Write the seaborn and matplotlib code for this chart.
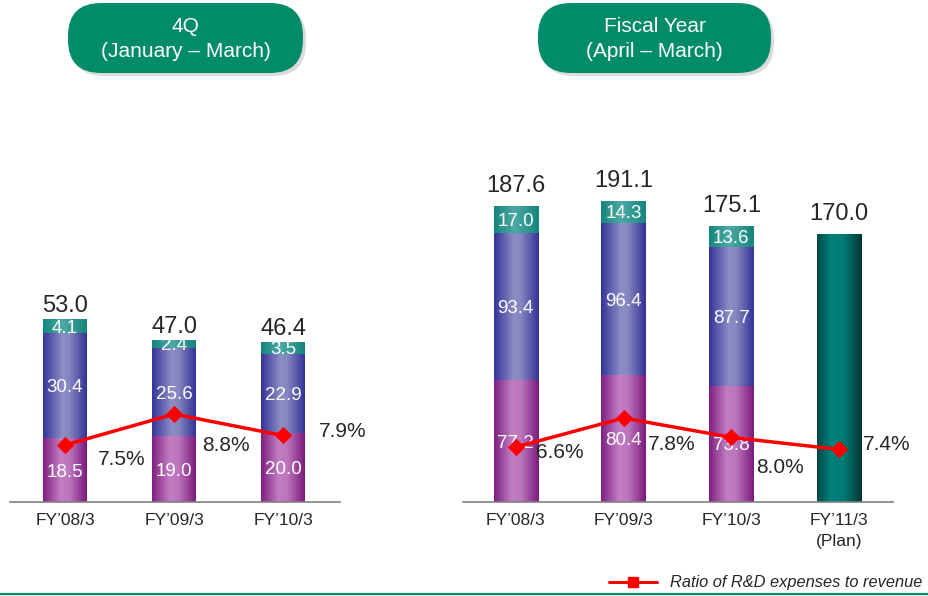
import numpy as np
import matplotlib
matplotlib.use('Agg')
import matplotlib.pyplot as plt
from matplotlib.colors import LinearSegmentedColormap
from matplotlib.patches import FancyBboxPatch
from matplotlib.lines import Line2D
import seaborn as sns

sns.set_style('white')
plt.rcParams['font.family'] = ['Liberation Sans', 'DejaVu Sans']

# 4Q (January - March)
cats_q = ['FY’08/3', 'FY’09/3', 'FY’10/3']
bottom_q = [18.5, 19.0, 20.0]
middle_q = [30.4, 25.6, 22.9]
top_q = [4.1, 2.4, 3.5]
ratio_q = [7.5, 8.8, 7.9]
ratio_q_labels = ['7.5%', '8.8%', '7.9%']

# Fiscal year (April - March)
cats_fy = ['FY’08/3', 'FY’09/3', 'FY’10/3', 'FY’11/3\n(Plan)']
bottom_fy = [77.2, 80.4, 73.8, 0]
middle_fy = [93.4, 96.4, 87.7, 0]
top_fy = [17.0, 14.3, 13.6, 0]
plan_fy = [0, 0, 0, 170.0]
ratio_fy = [6.6, 7.8, 7.0, 6.5]   # line heights as drawn in the slide
ratio_fy_labels = ['6.6%', '7.8%', '8.0%', '7.4%']

GREEN = '#008C69'

# horizontal "cylinder" gradients
cm_purple = LinearSegmentedColormap.from_list('p', [(0, '#7E1F80'), (0.4, '#C27EC2'), (0.6, '#BC76BC'), (1, '#7A1A7C')])
cm_blue = LinearSegmentedColormap.from_list('b', [(0, '#34349A'), (0.45, '#8E8EC6'), (0.6, '#8686C0'), (1, '#323298')])
cm_teal = LinearSegmentedColormap.from_list('t', [(0, '#15857D'), (0.45, '#4DA9A5'), (1, '#15857D')])
cm_plan = LinearSegmentedColormap.from_list('pl', [(0, '#004846'), (0.3, '#00807A'), (0.6, '#007A74'), (1, '#003634')])


def shade(ax, bars, cmap):
    for p in bars:
        h = p.get_height()
        if h == 0:
            continue
        x0, y0, w = p.get_x(), p.get_y(), p.get_width()
        im = ax.imshow(np.linspace(0, 1, 256)[None, :], cmap=cmap, aspect='auto',
                       extent=(x0, x0 + w, y0, y0 + h), interpolation='bilinear', zorder=2)
        im.set_clip_path(p)
        p.set_facecolor('none')
        p.set_edgecolor('none')


def stacked(ax, cats, layers, width):
    run = np.zeros(len(cats))
    for vals, cmap, lab in layers:
        sns.barplot(x=cats, y=vals, bottom=run.copy(), width=width, color='gray',
                    errorbar=None, linewidth=0, ax=ax)
        bars = ax.containers[-1]
        shade(ax, bars, cmap)
        if lab:
            for b, v in zip(bars, vals):
                if v:
                    ax.text(b.get_x() + b.get_width() / 2, b.get_y() + v / 2, f'{v:.1f}',
                            ha='center', va='center_baseline', color='white', fontsize=13.5, zorder=3)
        run += np.array(vals, dtype=float)
    return run


def ratio_line(ax, ratio, labels, ylim, dx, dy):
    ax2 = ax.twinx()
    sns.lineplot(x=np.arange(len(ratio)), y=ratio, ax=ax2, color='red', marker='D',
                 markersize=8, markeredgecolor='red', linewidth=2.5)
    for i, (r, lbl) in enumerate(zip(ratio, labels)):
        ax2.annotate(lbl, (i, r), xytext=(dx[i], dy[i]), textcoords='offset pixels',
                     ha='center', va='center_baseline', fontsize=15)
    ax2.set_ylim(*ylim)
    ax2.axis('off')


def style_axis(ax):
    ax.set_facecolor('none')
    ax.set_yticks([])
    ax.set_xlabel('')
    ax.set_ylabel('')
    sns.despine(ax=ax, left=True)
    ax.spines['bottom'].set_color('#808080')
    ax.spines['bottom'].set_linewidth(1.2)
    ax.tick_params(axis='x', length=0, pad=8, labelsize=12.5)


fig = plt.figure(figsize=(9.29, 5.96), dpi=100)

# left panel: 4Q
axL = fig.add_axes([10 / 929, 94 / 596, 330 / 929, 402 / 596])
tot_q = stacked(axL, cats_q, [(bottom_q, cm_purple, True), (middle_q, cm_blue, True), (top_q, cm_teal, True)], 0.4)
for i, t in enumerate(tot_q):
    axL.annotate(f'{t:.1f}', (i, t), xytext=(0, 7), textcoords='offset pixels',
                 ha='center', va='baseline', fontsize=17)
style_axis(axL)
ratio_line(axL, ratio_q, ratio_q_labels, (5.105, 22.0), [57, 52, 60], [-12, -29, 6])
axL.set_ylim(0, 116.5)
axL.set_xlim(-0.505, 2.523)

# right panel: fiscal year
axR = fig.add_axes([463 / 929, 94 / 596, 430 / 929, 402 / 596])
tot_fy = stacked(axR, cats_fy, [(bottom_fy, cm_purple, True), (middle_fy, cm_blue, True),
                                 (top_fy, cm_teal, True), (plan_fy, cm_plan, False)], 0.41)
for i, t in enumerate(tot_fy):
    axR.annotate(f'{t:.1f}', (i, t), xytext=(0, 14), textcoords='offset pixels',
                 ha='center', va='baseline', fontsize=17)
style_axis(axR)
ratio_line(axR, ratio_fy, ratio_fy_labels, (4.325, 20.96), [44, 48, 49, 48], [-3, -24, -28, 7])
axR.set_ylim(0, 254.8)
axR.set_xlim(-0.49, 3.50)

# header pills, bottom rule (pixel coordinates)
ov = fig.add_axes([0, 0, 1, 1], zorder=-1)
ov.set_xlim(0, 929)
ov.set_ylim(596, 0)
ov.axis('off')
for x0, x1, txt in [(68, 303, '4Q\n(January – March)'), (538, 771, 'Fiscal Year\n(April – March)')]:
    ov.add_patch(FancyBboxPatch((x0 + 3, 6), x1 - x0, 70, boxstyle='round,pad=0,rounding_size=33',
                                fc='#c4c4c4', ec='none', alpha=0.6))
    ov.add_patch(FancyBboxPatch((x0, 3), x1 - x0, 70, boxstyle='round,pad=0,rounding_size=33',
                                fc=GREEN, ec='none'))
    ov.text((x0 + x1) / 2, 39, txt, ha='center', va='center', color='white',
            fontsize=15, linespacing=1.45)
ov.plot([0, 929], [594, 594], color=GREEN, lw=1.6, solid_capstyle='butt')

fig.legend(handles=[Line2D([], [], color='red', lw=2.2, marker='s', markersize=7)],
           labels=['Ratio of R&D expenses to revenue'], loc='center right',
           bbox_to_anchor=(922 / 929, 13 / 596), frameon=False,
           prop={'style': 'italic', 'size': 11.8}, handlelength=2.9, handletextpad=0.8,
           borderpad=0, borderaxespad=0)

# two-line "(Plan)" label spacing, set after the limits are final
for ax in (axL, axR):
    for t in ax.get_xticklabels():
        t.set_linespacing(1.5)

fig.savefig('out.png', dpi=100)
